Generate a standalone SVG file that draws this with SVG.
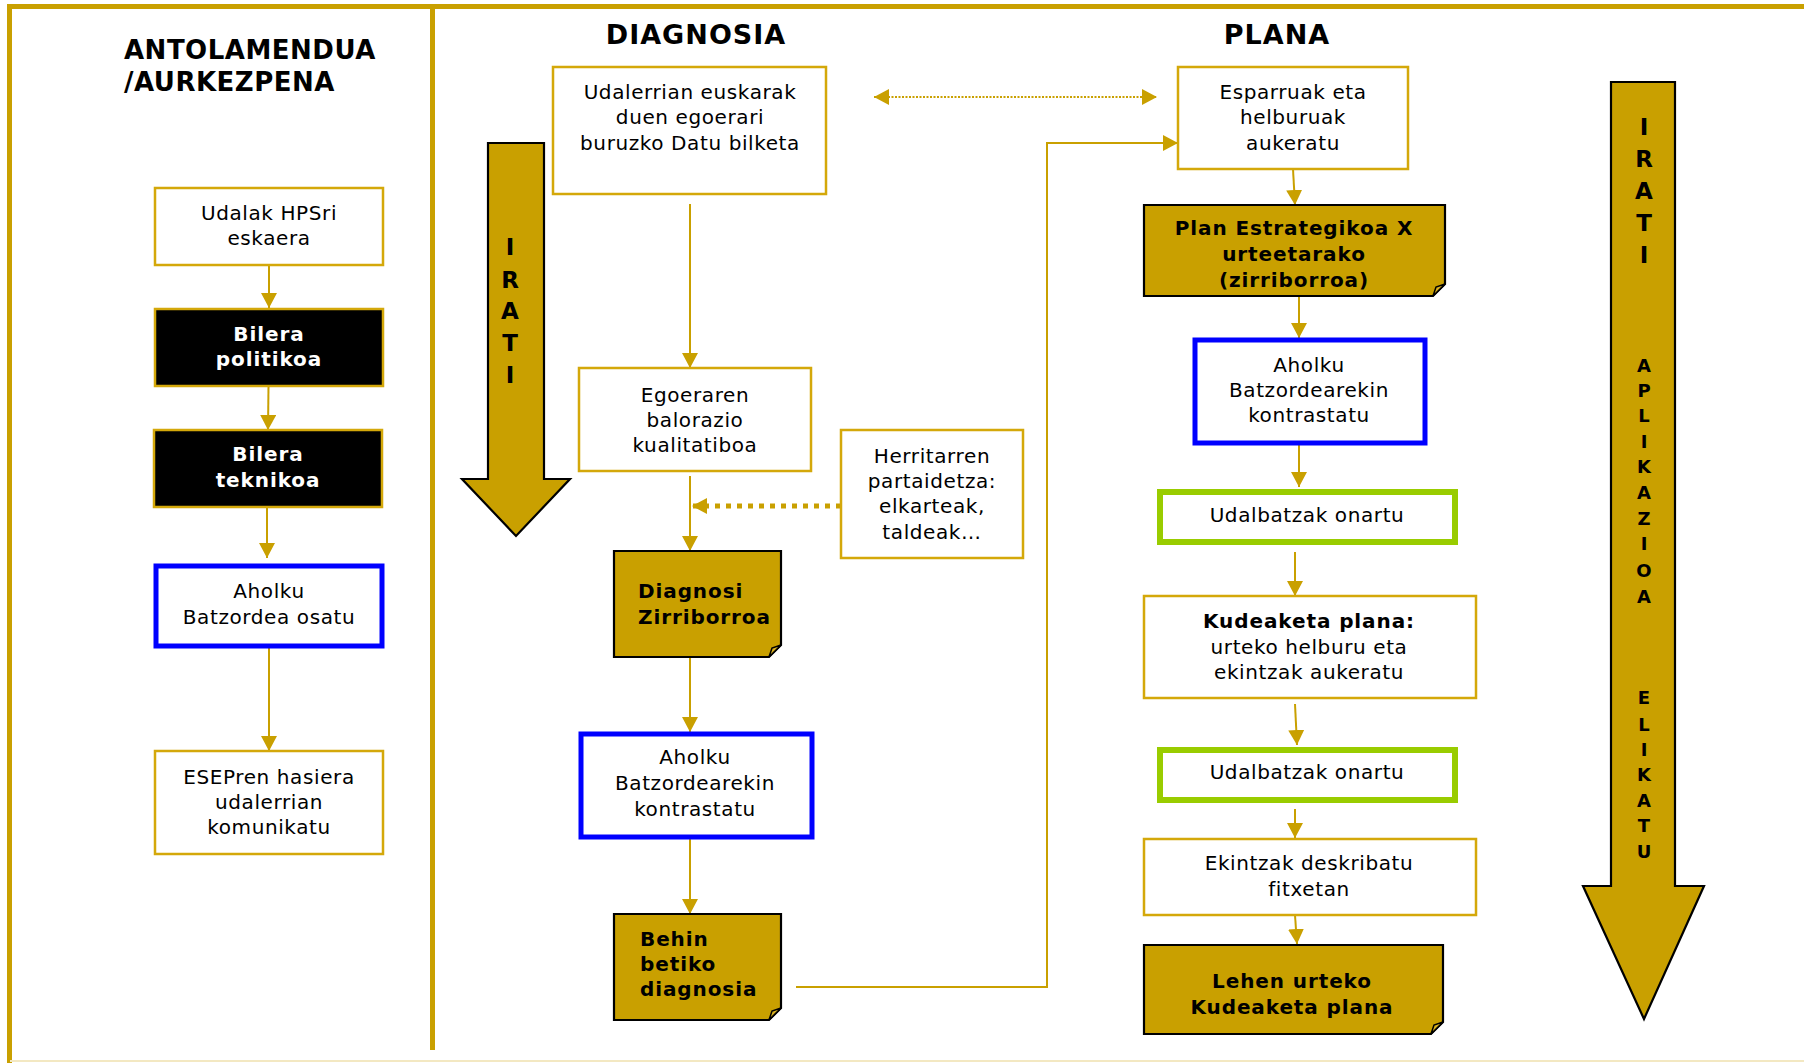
<svg xmlns="http://www.w3.org/2000/svg" width="1804" height="1063" viewBox="0 0 1804 1063">
<style>
text{font-family:"DejaVu Sans",Verdana,sans-serif;font-size:20px;letter-spacing:0.6px;fill:#000;text-anchor:middle}
.b{font-weight:bold;letter-spacing:0.9px}
.w{fill:#fff}
.title{font-size:27px;font-weight:bold;letter-spacing:1px}
.t1{font-size:26px;letter-spacing:0.5px}
.l{text-anchor:start}
.box{fill:#fff;stroke:#D4A80A;stroke-width:2.5}
.blk{fill:#000;stroke:#D4A80A;stroke-width:2.5}
.blue{fill:#fff;stroke:#0000FF;stroke-width:5}
.green{fill:#fff;stroke:#99CC00;stroke-width:6}
.note{fill:#C9A000;stroke:#000;stroke-width:2.2}
.fold{fill:#D8B020;stroke:#000;stroke-width:1.5}
.big{fill:#C9A000;stroke:#000;stroke-width:2.2}
.lt{font-size:23px;font-weight:bold;letter-spacing:0}
.st{font-size:18px;font-weight:bold;letter-spacing:0}
.c{fill:none;stroke:#C9A000;stroke-width:2}
.frame{stroke:#C9A000;stroke-width:5;fill:none}
</style>
<defs>
<marker id="ah" viewBox="0 0 15 16" refX="15" refY="8" markerWidth="15" markerHeight="16" markerUnits="userSpaceOnUse" orient="auto-start-reverse"><path d="M0,0 L15,8 L0,16 Z" fill="#C9A000"/></marker>
</defs>

<g id="frame">
<line class="frame" x1="7" y1="6.5" x2="1804" y2="6.5"/>
<line class="frame" x1="9.5" y1="4" x2="9.5" y2="1063"/>
<line class="frame" x1="432.5" y1="4" x2="432.5" y2="1050"/>
<line x1="10" y1="1061" x2="1804" y2="1061" stroke="#F3E8C2" stroke-width="2"/>
</g>

<g id="titles">
<text class="title t1 l" x="124" y="59">ANTOLAMENDUA</text>
<text class="title t1 l" x="124" y="91">/AURKEZPENA</text>
<text class="title" x="696" y="44">DIAGNOSIA</text>
<text class="title" x="1277" y="44">PLANA</text>
</g>

<g id="irati-left">
<path class="big" d="M488,143 H544 V479 H570 L516,536 L462,479 H488 Z"/>
<text class="lt" x="510" y="255">I</text>
<text class="lt" x="510" y="288">R</text>
<text class="lt" x="510" y="319">A</text>
<text class="lt" x="510" y="351">T</text>
<text class="lt" x="510" y="383">I</text>
</g>

<g id="irati-right">
<path class="big" d="M1611,82 H1675 V886 H1704 L1644,1019 L1583,886 H1611 Z"/>
<text class="lt" x="1644" y="135">I</text>
<text class="lt" x="1644" y="167">R</text>
<text class="lt" x="1644" y="199">A</text>
<text class="lt" x="1644" y="231">T</text>
<text class="lt" x="1644" y="263">I</text>
<text class="st" x="1644" y="372">A</text>
<text class="st" x="1644" y="397">P</text>
<text class="st" x="1644" y="422">L</text>
<text class="st" x="1644" y="448">I</text>
<text class="st" x="1644" y="473">K</text>
<text class="st" x="1644" y="499">A</text>
<text class="st" x="1644" y="525">Z</text>
<text class="st" x="1644" y="550">I</text>
<text class="st" x="1644" y="577">O</text>
<text class="st" x="1644" y="603">A</text>
<text class="st" x="1644" y="704">E</text>
<text class="st" x="1644" y="731">L</text>
<text class="st" x="1644" y="756">I</text>
<text class="st" x="1644" y="781">K</text>
<text class="st" x="1644" y="807">A</text>
<text class="st" x="1644" y="832">T</text>
<text class="st" x="1644" y="858">U</text>
</g>

<g id="connectors">
<line class="c" x1="269" y1="265" x2="269" y2="308" marker-end="url(#ah)"/>
<line class="c" x1="268.5" y1="386" x2="268" y2="430" marker-end="url(#ah)"/>
<line class="c" x1="267" y1="507" x2="267" y2="558" marker-end="url(#ah)"/>
<line class="c" x1="269" y1="648" x2="269" y2="751" marker-end="url(#ah)"/>
<line class="c" x1="690" y1="204" x2="690" y2="368" marker-end="url(#ah)"/>
<line class="c" x1="690" y1="476" x2="690" y2="551" marker-end="url(#ah)"/>
<line class="c" x1="690" y1="657" x2="690" y2="732" marker-end="url(#ah)"/>
<line class="c" x1="690" y1="839" x2="690" y2="914" marker-end="url(#ah)"/>
<line x1="841" y1="506" x2="692" y2="506" stroke="#C9A000" stroke-width="5" stroke-dasharray="5,6" marker-end="url(#ah)"/>
<line x1="874" y1="97" x2="1157" y2="97" stroke="#C9A000" stroke-width="2" stroke-dasharray="2,1.5" marker-start="url(#ah)" marker-end="url(#ah)"/>
<polyline class="c" points="796,987 1047,987 1047,143 1178,143" marker-end="url(#ah)"/>
<line class="c" x1="1293" y1="169" x2="1295" y2="205" marker-end="url(#ah)"/>
<line class="c" x1="1299" y1="296" x2="1299" y2="338" marker-end="url(#ah)"/>
<line class="c" x1="1299" y1="445" x2="1299" y2="487" marker-end="url(#ah)"/>
<line class="c" x1="1295" y1="552" x2="1295" y2="596" marker-end="url(#ah)"/>
<line class="c" x1="1295" y1="704" x2="1297" y2="745" marker-end="url(#ah)"/>
<line class="c" x1="1295" y1="809" x2="1295" y2="838" marker-end="url(#ah)"/>
<line class="c" x1="1295" y1="915" x2="1297" y2="944" marker-end="url(#ah)"/>
</g>

<g id="n-udalak">
<rect class="box" x="155" y="188" width="228" height="77"/>
<text x="269" y="220">Udalak HPSri</text>
<text x="269" y="245">eskaera</text>
</g>
<g id="n-bilera-politikoa">
<rect class="blk" x="155" y="309" width="228" height="77"/>
<text class="b w" x="269" y="341">Bilera</text>
<text class="b w" x="269" y="366">politikoa</text>
</g>
<g id="n-bilera-teknikoa">
<rect class="blk" x="154" y="430" width="228" height="77"/>
<text class="b w" x="268" y="461">Bilera</text>
<text class="b w" x="268" y="487">teknikoa</text>
</g>
<g id="n-aholku-osatu">
<rect class="blue" x="156" y="566" width="226" height="80"/>
<text x="269" y="598">Aholku</text>
<text x="269" y="624">Batzordea osatu</text>
</g>
<g id="n-esep">
<rect class="box" x="155" y="751" width="228" height="103"/>
<text x="269" y="784">ESEPren hasiera</text>
<text x="269" y="809">udalerrian</text>
<text x="269" y="834">komunikatu</text>
</g>

<g id="n-datu">
<rect class="box" x="553" y="67" width="273" height="127"/>
<text x="690" y="99">Udalerrian euskarak</text>
<text x="690" y="124">duen egoerari</text>
<text x="690" y="150">buruzko Datu bilketa</text>
</g>
<g id="n-balorazio">
<rect class="box" x="579" y="368" width="232" height="103"/>
<text x="695" y="402">Egoeraren</text>
<text x="695" y="427">balorazio</text>
<text x="695" y="452">kualitatiboa</text>
</g>
<g id="n-herritarren">
<rect class="box" x="841" y="430" width="182" height="128"/>
<text x="932" y="463">Herritarren</text>
<text x="932" y="488">partaidetza:</text>
<text x="932" y="513">elkarteak,</text>
<text x="932" y="539">taldeak…</text>
</g>
<g id="n-diagnosi-zirriborroa">
<path class="note" d="M614,551 H781 V645 L769,657 H614 Z"/>
<path class="fold" d="M769,657 L772,648 L781,645 Z"/>
<text class="b l" x="638" y="598">Diagnosi</text>
<text class="b l" x="638" y="624">Zirriborroa</text>
</g>
<g id="n-aholku-diag">
<rect class="blue" x="581" y="734" width="231" height="103"/>
<text x="695" y="764">Aholku</text>
<text x="695" y="790">Batzordearekin</text>
<text x="695" y="816">kontrastatu</text>
</g>
<g id="n-behin">
<path class="note" d="M614,914 H781 V1008 L769,1020 H614 Z"/>
<path class="fold" d="M769,1020 L772,1011 L781,1008 Z"/>
<text class="b l" x="640" y="946">Behin</text>
<text class="b l" x="640" y="971">betiko</text>
<text class="b l" x="640" y="996">diagnosia</text>
</g>

<g id="n-esparruak">
<rect class="box" x="1178" y="67" width="230" height="102"/>
<text x="1293" y="99">Esparruak eta</text>
<text x="1293" y="124">helburuak</text>
<text x="1293" y="150">aukeratu</text>
</g>
<g id="n-plan-estrategikoa">
<path class="note" d="M1144,205 H1445 V284 L1433,296 H1144 Z"/>
<path class="fold" d="M1433,296 L1436,287 L1445,284 Z"/>
<text class="b" x="1294" y="235">Plan Estrategikoa X</text>
<text class="b" x="1294" y="261">urteetarako</text>
<text class="b" x="1294" y="287">(zirriborroa)</text>
</g>
<g id="n-aholku-plan">
<rect class="blue" x="1195" y="340" width="230" height="103"/>
<text x="1309" y="372">Aholku</text>
<text x="1309" y="397">Batzordearekin</text>
<text x="1309" y="422">kontrastatu</text>
</g>
<g id="n-udalbatzak-1">
<rect class="green" x="1160" y="492" width="295" height="50"/>
<text x="1307" y="522">Udalbatzak onartu</text>
</g>
<g id="n-kudeaketa">
<rect class="box" x="1144" y="596" width="332" height="102"/>
<text class="b" x="1309" y="628">Kudeaketa plana:</text>
<text x="1309" y="654">urteko helburu eta</text>
<text x="1309" y="679">ekintzak aukeratu</text>
</g>
<g id="n-udalbatzak-2">
<rect class="green" x="1160" y="750" width="295" height="50"/>
<text x="1307" y="779">Udalbatzak onartu</text>
</g>
<g id="n-ekintzak">
<rect class="box" x="1144" y="839" width="332" height="76"/>
<text x="1309" y="870">Ekintzak deskribatu</text>
<text x="1309" y="896">fitxetan</text>
</g>
<g id="n-lehen">
<path class="note" d="M1144,945 H1443 V1022 L1431,1034 H1144 Z"/>
<path class="fold" d="M1431,1034 L1434,1025 L1443,1022 Z"/>
<text class="b" x="1292" y="988">Lehen urteko</text>
<text class="b" x="1292" y="1014">Kudeaketa plana</text>
</g>
</svg>
